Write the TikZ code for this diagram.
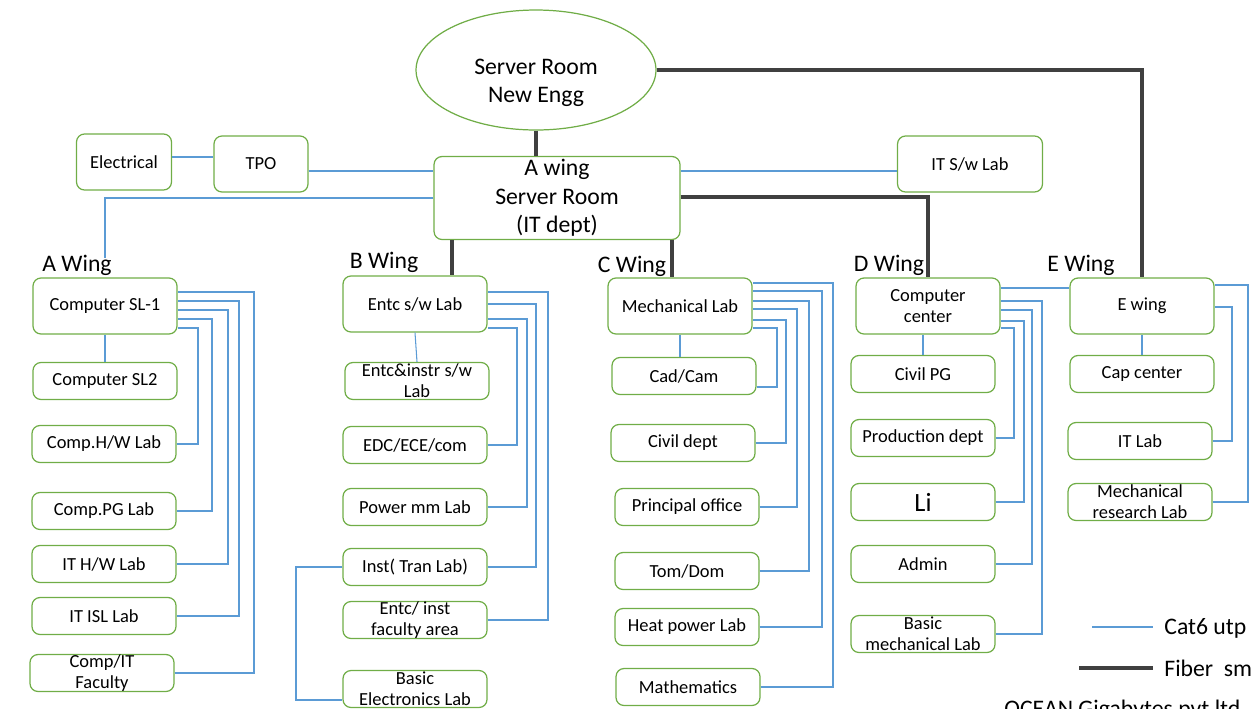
\documentclass[tikz,border=0pt]{standalone}
\usepackage{fontspec}
\setmainfont{Carlito}
\usetikzlibrary{positioning}
\usetikzlibrary{shapes.geometric}
\definecolor{boxgreen}{RGB}{112,173,71}
\definecolor{catblue}{RGB}{91,155,213}
\definecolor{fibergray}{RGB}{64,64,64}
\tikzset{room/.style={draw=boxgreen,line width=0.7pt,rounded corners=0.16cm,minimum width=2.88cm,minimum height=0.74cm,inner sep=0pt,align=center,font=\fontsize{10.5}{12}\selectfont}}
\tikzset{bigroom/.style={room,minimum height=1.12cm}}
\tikzset{wing/.style={inner sep=0pt,align=center,font=\fontsize{13.5}{16.3}\selectfont}}
\tikzset{cat/.style={draw=catblue,line width=0.6pt}}
\tikzset{fiber/.style={draw=fibergray,line width=2.2pt}}

\begin{document}
\begin{tikzpicture}[x=0.02cm,y=-0.02cm]
\useasboundingbox (0,0) rectangle (1257,708);

% server rooms
\node[draw=boxgreen,line width=0.7pt,ellipse,minimum width=4.8cm,minimum height=2.4cm] (srv) at (536,70) {};
\node[wing] (srvtxt) at (536,83) {Server Room\\New Engg};
\node[room,minimum width=4.92cm,minimum height=1.66cm,font=\fontsize{13.5}{16.2}\selectfont] (awsr) at (557,198) {A wing\\Server Room\\(IT dept)};
\node[bigroom,minimum width=1.9cm] (elec) at (124,162) {Electrical};
\node[bigroom,minimum width=1.88cm] (tpo) at (261,164) {TPO};
\node[bigroom,minimum width=2.9cm] (itsw) at (970,164) {IT S/w Lab};

% wing labels
\node[wing,anchor=base] (awl) at (77,271) {A Wing};
\node[wing,anchor=base] (bwl) at (384,268) {B Wing};
\node[wing,anchor=base] (cwl) at (632,272) {C Wing};
\node[wing,anchor=base] (dwl) at (889,271) {D Wing};
\node[wing,anchor=base] (ewl) at (1081,271) {E Wing};

% A wing
\node[bigroom] (sl1) at (105,306) {Computer SL-1};
\node[room] (sl2) at (105,381) {Computer SL2};
\node[room] (chw) at (104,444) {Comp.H/W Lab};
\node[room] (cpg) at (104,511) {Comp.PG Lab};
\node[room] (ithw) at (104,564) {IT H/W Lab};
\node[room] (isl) at (104,616) {IT ISL Lab};
\node[room] (fac) at (102,673) {Comp/IT\\Faculty};

% B wing
\node[bigroom] (ent) at (415,304) {Entc s/w Lab};
\node[room] (entin) at (417,381) {Entc\&instr s/w\\Lab};
\node[room] (edc) at (415,445) {EDC/ECE/com};
\node[room] (pmm) at (415,507) {Power mm Lab};
\node[room] (inst) at (415,567) {Inst( Tran Lab)};
\node[room] (entfac) at (415,620) {Entc/ inst\\faculty area};
\node[room] (bel) at (415,689) {Basic\\Electronics Lab};

% C wing
\node[bigroom] (mech) at (680,306) {Mechanical Lab};
\node[room] (cad) at (684,376) {Cad/Cam};
\node[room] (civ) at (683,443) {Civil dept};
\node[room] (prin) at (687,507) {Principal office};
\node[room] (tom) at (687,571) {Tom/Dom};
\node[room] (heat) at (687,627) {Heat power Lab};
\node[room] (math) at (688,687) {Mathematics};

% D wing
\node[bigroom] (cc) at (928,306) {Computer\\center};
\node[room] (civpg) at (923,374) {Civil PG};
\node[room] (prod) at (923,438) {Production dept};
\node[room,font=\fontsize{15}{18}\selectfont] (li) at (923,502) {Li};
\node[room] (adm) at (923,564) {Admin};
\node[room] (bml) at (923,634) {Basic\\mechanical Lab};

% E wing
\node[bigroom] (ew) at (1142,306) {E wing};
\node[room] (cap) at (1142,374) {Cap center};
\node[room] (itl) at (1140,441) {IT Lab};
\node[room] (mrl) at (1140,502) {Mechanical\\research Lab};

% fiber
\draw[fiber] (srv.south) -- (awsr.north -| srv.south);
\draw[fiber] (srv.east) -| (ew.north);
\draw[fiber] (awsr.east |- 0,197) -| (cc.north);
\draw[fiber] (awsr.south -| 452,0) -- (ent.north -| 452,0);
\draw[fiber] (awsr.south -| 672,0) -- (mech.north -| 672,0);

% cat6 from server room
\coordinate (awdrop) at (105,258);
\draw[cat] (elec.east |- 0,157) -- (tpo.west |- 0,157);
\draw[cat] (tpo.east |- 0,171) -- (awsr.west |- 0,171);
\draw[cat] (awsr.east |- 0,171) -- (itsw.west |- 0,171);
\draw[cat] (awsr.west |- 0,198) -| (awdrop);

% cat6 A wing
\draw[cat] (sl2.north) -- (sl1.south);
\draw[cat] (chw.east) -| (198,328) -- (sl1.east |- 0,328);
\draw[cat] (cpg.east) -| (212,319) -- (sl1.east |- 0,319);
\draw[cat] (ithw.east) -| (228,310) -- (sl1.east |- 0,310);
\draw[cat] (isl.east) -| (239,301) -- (sl1.east |- 0,301);
\draw[cat] (fac.east) -| (254,292) -- (sl1.east |- 0,292);

% cat6 B wing
\draw[cat] (entin.north) -- (ent.south);
\draw[cat] (edc.east) -| (517,328) -- (ent.east |- 0,328);
\draw[cat] (pmm.east) -| (527,319) -- (ent.east |- 0,319);
\draw[cat] (inst.east) -| (536,304) -- (ent.east |- 0,304);
\draw[cat] (entfac.east) -| (548,292) -- (ent.east |- 0,292);
\draw[cat] (inst.west) -| (296,700) -- (bel.west |- 0,700);

% cat6 C wing
\draw[cat] (mech.south) -- (mech.south |- cad.north);
\draw[cat] (cad.east |- 0,387) -| (777,328) -- (mech.east |- 0,328);
\draw[cat] (civ.east) -| (786,320) -- (mech.east |- 0,320);
\draw[cat] (prin.east) -| (797,309) -- (mech.east |- 0,309);
\draw[cat] (tom.east) -| (809,301) -- (mech.east |- 0,301);
\draw[cat] (heat.east) -| (822,291) -- (mech.east |- 0,291);
\draw[cat] (math.east) -| (833,283) -- (mech.east |- 0,283);

% cat6 D wing
\draw[cat] (civpg.north) -- (civpg.north |- cc.south);
\draw[cat] (cc.east |- 0,288) -- (ew.west |- 0,288);
\draw[cat] (prod.east) -| (1014,328) -- (cc.east |- 0,328);
\draw[cat] (li.east) -| (1024,321) -- (cc.east |- 0,321);
\draw[cat] (adm.east) -| (1032,310) -- (cc.east |- 0,310);
\draw[cat] (bml.east) -| (1042,301) -- (cc.east |- 0,301);

% cat6 E wing
\draw[cat] (cap.north) -- (ew.south);
\draw[cat] (itl.east) -| (1232,307) -- (ew.east |- 0,307);
\draw[cat] (mrl.east) -| (1248,285) -- (ew.east |- 0,285);

% legend
\coordinate (catA) at (1092,627);
\coordinate (catB) at (1153,627);
\coordinate (fibA) at (1079,668);
\coordinate (fibB) at (1153,668);
\draw[cat] (catA) -- (catB);
\draw[fiber,line width=2.6pt] (fibA) -- (fibB);
\node[wing,anchor=west] (cattxt) at (1164,628) {Cat6 utp};
\node[wing,anchor=west] (fibtxt) at (1164,668) {Fiber\ \ sm};
\node[wing,anchor=base west] (ocean) at (1004,716) {OCEAN Gigabytes pvt ltd};

\end{tikzpicture}
\end{document}
